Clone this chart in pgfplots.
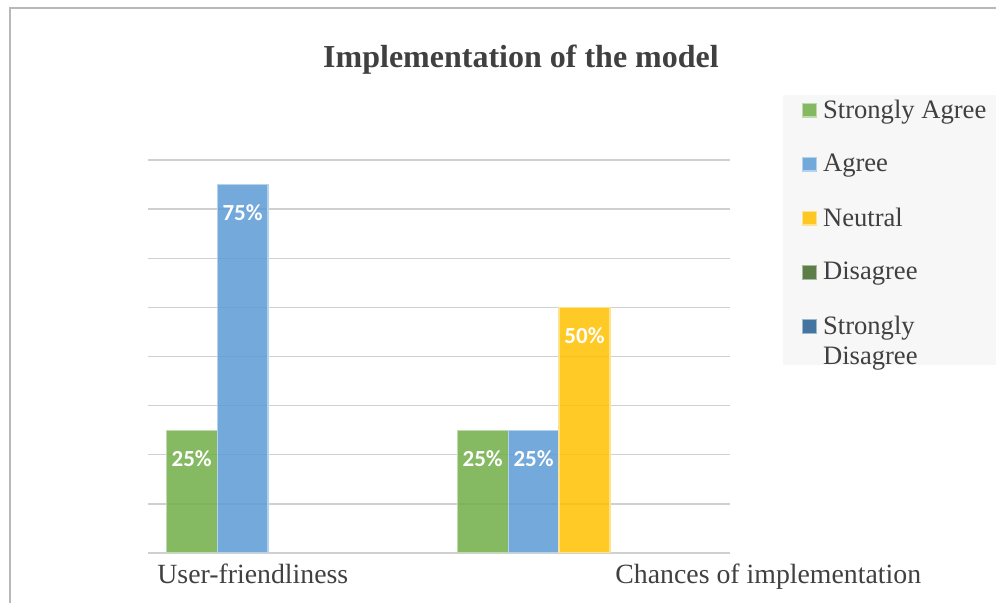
\documentclass[border=0pt]{standalone}
\usepackage{pgfplots}
\pgfplotsset{compat=1.18}
\usepackage{fontspec}
\setmainfont{Liberation Serif}
\newfontfamily\labelfont{Carlito}

\definecolor{sagree}{HTML}{70AD47}
\definecolor{agree}{HTML}{5B9BD5}
\definecolor{neutral}{HTML}{FFC000}
\definecolor{disagree}{HTML}{43682B}
\definecolor{sdisagree}{HTML}{255E91}
\definecolor{txt}{HTML}{404040}
\definecolor{gridc}{HTML}{D0D0D0}
\definecolor{legbg}{HTML}{F7F7F7}

\begin{document}
\begin{tikzpicture}
% frame of the chart area
\draw[color=black!28, line width=1pt] (4.75pt,0pt) -- (4.75pt,297.25pt) -- (498pt,297.25pt);
% legend panel
\fill[legbg] (391.5pt,119pt) rectangle (500pt,254pt);

% title
\node[anchor=base, font=\bfseries\fontsize{16}{19}\selectfont, text=txt, inner sep=0pt]
  at (260.5pt,267.5pt) {Implementation of the model};

\begin{axis}[
  at={(74pt,25pt)}, anchor=south west,
  scale only axis, width=291pt, height=196.5pt,
  xmin=-0.5, xmax=1.5, ymin=0, ymax=80,
  ybar, bar width=0.175,
  xtick=\empty, ytick={0,10,...,80}, yticklabels={},
  ymajorgrids, grid style={gridc, line width=0.7pt},
  axis line style={draw=none}, major tick length=0pt,
  legend style={at={(axis description cs:1.096,1.165)}, anchor=north west,
    fill=none, draw=none, text=txt,
    font=\fontsize{13.3}{15}\selectfont,
    row sep=12.5pt, inner xsep=8pt, inner ysep=0pt,
    cells={align=left}},
  legend cell align=left,
  legend image code/.code={\draw[#1, fill opacity=0.85] (0pt,-3.4pt) rectangle (6.8pt,3.4pt);
    \path (7.8pt,0pt);},
  /pgf/number format/assume math mode=true,
  nodes near coords={\labelfont\bfseries\fontsize{11.5}{13}\selectfont\pgfmathprintnumber{\pgfplotspointmeta}\%},
  nodes near coords style={text=white, text opacity=1, anchor=center, yshift=-14pt},
]
% categories: 0 = User-friendliness, 1 = Chances of implementation
\addplot[bar shift=-0.35, fill=sagree, fill opacity=0.85,
  draw=sagree!45!white, line width=0.6pt]
  coordinates {(0,25) (1,25)};
\addlegendentry{Strongly Agree}
\addplot[bar shift=-0.175, fill=agree, fill opacity=0.85,
  draw=agree!45!white, line width=0.6pt]
  coordinates {(0,75) (1,25)};
\addlegendentry{Agree}
\addplot[bar shift=0, fill=neutral, fill opacity=0.85,
  draw=neutral!45!white, line width=0.6pt]
  coordinates {(1,50)};
\addlegendentry{Neutral}
\addlegendimage{fill=disagree, draw=disagree!45!white, line width=0.6pt}
\addlegendentry{Disagree}
\addlegendimage{fill=sdisagree, draw=sdisagree!45!white, line width=0.6pt}
\addlegendentry{\vtop{\hbox{Strongly}\hbox{Disagree}}}
\end{axis}

% category names
\node[anchor=base west, font=\fontsize{13.9}{16}\selectfont, text=txt, inner sep=0pt]
  at (78.5pt,9.5pt) {User-friendliness};
\node[anchor=base west, font=\fontsize{13.9}{16}\selectfont, text=txt, inner sep=0pt]
  at (307.5pt,9.5pt) {Chances of implementation};

\pgfresetboundingbox
\path[use as bounding box] (0pt,0pt) rectangle (498pt,301.5pt);
\end{tikzpicture}
\end{document}
